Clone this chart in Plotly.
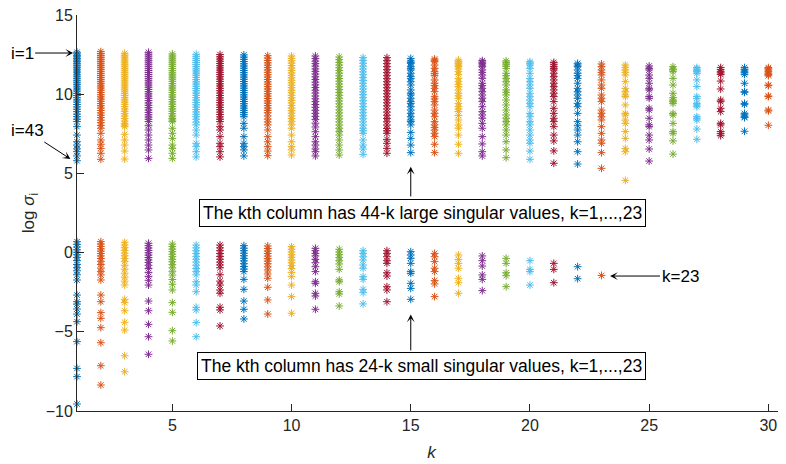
import plotly.graph_objects as go

# ---- data: log singular values per column k ----
large_01 = [12.65, 12.55, 12.45, 12.36, 12.25, 12.15, 12.05, 11.93, 11.82, 11.70, 11.58, 11.46, 11.35, 11.22, 11.10, 10.98, 10.85, 10.72, 10.60, 10.46, 10.33, 10.20, 10.05, 9.92, 9.78, 9.64, 9.50, 9.35, 9.20, 9.05, 8.90, 8.74, 8.58, 8.42, 8.27, 7.95, 7.42, 7.00, 6.79, 6.55, 6.37, 6.10, 5.80]
large_02 = [12.69, 12.57, 12.44, 12.32, 12.20, 12.07, 11.95, 11.82, 11.70, 11.57, 11.44, 11.31, 11.18, 11.05, 10.92, 10.79, 10.66, 10.52, 10.39, 10.25, 10.11, 9.97, 9.83, 9.69, 9.55, 9.41, 9.27, 9.12, 8.97, 8.82, 8.67, 8.52, 8.36, 8.20, 8.03, 7.85, 7.53, 7.11, 6.84, 6.58, 6.27, 5.89]
large_03 = [12.58, 12.46, 12.34, 12.22, 12.10, 11.98, 11.86, 11.73, 11.61, 11.48, 11.36, 11.23, 11.10, 10.97, 10.84, 10.71, 10.58, 10.45, 10.32, 10.19, 10.05, 9.92, 9.78, 9.64, 9.50, 9.36, 9.22, 9.07, 8.92, 8.77, 8.62, 8.46, 8.30, 8.14, 8.05, 7.95, 7.47, 7.11, 6.79, 6.41, 5.91]
large_04 = [12.64, 12.52, 12.40, 12.27, 12.14, 12.02, 11.89, 11.76, 11.63, 11.50, 11.37, 11.24, 11.11, 10.98, 10.85, 10.71, 10.58, 10.44, 10.30, 10.16, 10.02, 9.88, 9.74, 9.60, 9.45, 9.30, 9.15, 9.00, 8.85, 8.70, 8.56, 8.42, 8.27, 8.01, 7.74, 7.42, 7.11, 6.79, 6.48, 5.95]
large_05 = [12.54, 12.41, 12.28, 12.15, 12.02, 11.89, 11.76, 11.62, 11.49, 11.35, 11.22, 11.08, 10.95, 10.81, 10.67, 10.53, 10.39, 10.25, 10.11, 9.96, 9.82, 9.67, 9.52, 9.37, 9.22, 9.07, 8.92, 8.77, 8.62, 8.47, 8.37, 8.27, 7.85, 7.53, 7.21, 6.79, 6.58, 6.27, 5.95]
large_06 = [12.52, 12.39, 12.26, 12.13, 12.00, 11.87, 11.74, 11.60, 11.47, 11.33, 11.20, 11.06, 10.92, 10.78, 10.64, 10.50, 10.36, 10.22, 10.07, 9.93, 9.78, 9.63, 9.48, 9.33, 9.18, 9.03, 8.88, 8.73, 8.58, 8.42, 8.24, 8.06, 7.74, 7.42, 6.90, 6.69, 6.37, 6.04]
large_07 = [12.50, 12.36, 12.22, 12.08, 11.94, 11.80, 11.66, 11.52, 11.38, 11.24, 11.10, 10.95, 10.81, 10.66, 10.52, 10.37, 10.22, 10.07, 9.92, 9.77, 9.62, 9.47, 9.32, 9.17, 9.02, 8.87, 8.72, 8.57, 8.42, 8.27, 7.95, 7.74, 7.32, 6.90, 6.69, 6.37, 6.04]
large_08 = [12.48, 12.34, 12.20, 12.06, 11.92, 11.78, 11.64, 11.50, 11.36, 11.22, 11.08, 10.94, 10.80, 10.66, 10.52, 10.38, 10.24, 10.10, 9.96, 9.82, 9.68, 9.54, 9.40, 9.26, 9.12, 8.98, 8.84, 8.71, 8.58, 8.16, 7.85, 7.32, 6.90, 6.69, 6.48, 6.10]
large_09 = [12.43, 12.28, 12.13, 11.98, 11.83, 11.68, 11.53, 11.38, 11.23, 11.08, 10.93, 10.78, 10.63, 10.48, 10.33, 10.18, 10.03, 9.88, 9.73, 9.58, 9.43, 9.28, 9.13, 8.98, 8.83, 8.63, 8.43, 8.25, 8.06, 7.74, 7.32, 7.00, 6.69, 6.41, 6.12]
large_10 = [12.41, 12.26, 12.11, 11.96, 11.81, 11.65, 11.50, 11.34, 11.19, 11.03, 10.88, 10.72, 10.57, 10.41, 10.25, 10.09, 9.93, 9.77, 9.61, 9.45, 9.29, 9.13, 8.96, 8.80, 8.63, 8.46, 8.29, 8.07, 7.85, 7.42, 7.00, 6.69, 6.48, 6.16]
large_11 = [12.41, 12.25, 12.09, 11.93, 11.77, 11.60, 11.44, 11.27, 11.10, 10.93, 10.76, 10.59, 10.42, 10.25, 10.07, 9.89, 9.71, 9.53, 9.35, 9.17, 8.98, 8.79, 8.60, 8.41, 8.17, 7.93, 7.63, 7.32, 7.00, 6.79, 6.54, 6.37, 6.10]
large_12 = [12.35, 12.18, 12.01, 11.84, 11.67, 11.50, 11.33, 11.16, 10.99, 10.82, 10.64, 10.47, 10.29, 10.11, 9.93, 9.75, 9.57, 9.39, 9.20, 9.01, 8.82, 8.63, 8.44, 8.25, 8.05, 7.85, 7.64, 7.42, 7.11, 6.79, 6.48, 6.16]
large_13 = [12.31, 12.13, 11.95, 11.77, 11.59, 11.41, 11.23, 11.05, 10.87, 10.69, 10.51, 10.33, 10.15, 9.97, 9.78, 9.59, 9.40, 9.21, 9.02, 8.83, 8.64, 8.45, 8.25, 8.05, 7.85, 7.69, 7.53, 7.11, 6.79, 6.54, 6.20]
large_14 = [12.31, 12.12, 11.93, 11.74, 11.55, 11.36, 11.17, 10.98, 10.79, 10.60, 10.41, 10.22, 10.03, 9.84, 9.65, 9.46, 9.27, 9.07, 8.87, 8.67, 8.47, 8.26, 8.05, 7.84, 7.69, 7.53, 7.15, 6.90, 6.58, 6.27]
large_15 = [12.26, 12.10, 12.01, 11.95, 11.74, 11.63, 11.53, 11.32, 11.11, 11.00, 10.79, 10.58, 10.27, 10.06, 9.95, 9.74, 9.53, 9.42, 9.21, 9.00, 8.79, 8.58, 8.37, 8.27, 8.06, 7.59, 7.21, 6.79, 6.31]
large_16 = [12.22, 12.14, 12.05, 11.84, 11.63, 11.42, 11.30, 11.17, 10.90, 10.69, 10.54, 10.37, 10.16, 9.84, 9.70, 9.53, 9.32, 9.00, 8.79, 8.58, 8.27, 8.06, 7.89, 7.74, 7.53, 7.32, 6.84, 6.31]
large_17 = [12.16, 12.05, 11.95, 11.84, 11.74, 11.59, 11.42, 11.25, 11.00, 10.79, 10.62, 10.48, 10.27, 10.06, 9.89, 9.74, 9.42, 9.21, 9.07, 8.90, 8.65, 8.37, 8.06, 7.85, 7.42, 6.84, 6.27]
large_18 = [12.12, 12.03, 11.95, 11.84, 11.74, 11.53, 11.38, 11.21, 11.00, 10.69, 10.54, 10.37, 10.16, 9.95, 9.74, 9.53, 9.21, 8.90, 8.69, 8.48, 8.16, 7.85, 7.32, 6.86, 6.37, 6.10]
large_19 = [12.10, 11.99, 11.89, 11.76, 11.63, 11.32, 11.17, 11.00, 10.79, 10.58, 10.27, 10.12, 9.95, 9.63, 9.32, 9.00, 8.69, 8.48, 8.27, 8.06, 7.74, 7.42, 7.00, 6.48, 5.99]
large_20 = [12.05, 11.95, 11.84, 11.63, 11.32, 11.00, 10.79, 10.58, 10.37, 10.06, 9.84, 9.63, 9.42, 9.21, 8.79, 8.58, 8.27, 8.06, 7.74, 7.42, 7.11, 6.90, 6.41, 5.89]
large_21 = [12.01, 11.89, 11.74, 11.63, 11.53, 11.32, 11.11, 10.90, 10.69, 10.48, 10.27, 10.06, 9.85, 9.53, 9.11, 8.79, 8.48, 8.27, 7.95, 7.42, 7.05, 6.42, 5.64]
large_22 = [11.95, 11.84, 11.74, 11.53, 11.32, 11.17, 11.00, 10.69, 10.37, 10.16, 9.95, 9.74, 9.42, 9.21, 8.79, 8.27, 8.01, 7.74, 7.42, 7.00, 6.37, 5.59]
large_23 = [11.91, 11.74, 11.53, 11.38, 11.21, 10.90, 10.58, 10.37, 9.95, 9.74, 9.53, 9.00, 8.79, 8.58, 8.37, 7.95, 7.53, 7.11, 6.90, 6.31, 5.32]
large_24 = [11.84, 11.70, 11.53, 11.38, 11.21, 10.79, 10.37, 10.16, 9.95, 9.85, 9.32, 8.79, 8.69, 8.37, 8.16, 7.64, 7.21, 6.58, 6.37, 4.56]
large_25 = [11.78, 11.63, 11.53, 11.21, 11.00, 10.69, 10.37, 10.27, 9.85, 9.74, 9.11, 9.00, 8.48, 8.06, 7.95, 7.42, 7.11, 6.54, 5.78]
large_26 = [11.74, 11.59, 11.53, 11.42, 11.00, 10.58, 10.06, 9.78, 9.63, 9.53, 9.42, 8.79, 8.69, 8.16, 7.64, 7.53, 7.05, 6.22]
large_27 = [11.68, 11.59, 11.51, 11.42, 11.32, 10.90, 10.48, 9.85, 9.74, 9.42, 9.32, 9.21, 8.58, 8.48, 8.37, 7.80, 7.15]
large_28 = [11.68, 11.55, 11.42, 11.34, 11.25, 10.83, 10.33, 9.63, 9.53, 9.11, 8.90, 8.16, 8.06, 7.64, 7.51, 7.38]
large_29 = [11.68, 11.57, 11.46, 11.36, 11.25, 10.69, 10.16, 10.12, 9.42, 9.36, 8.79, 8.69, 8.58, 8.52, 7.66]
large_30 = [11.68, 11.61, 11.53, 11.42, 11.32, 11.25, 11.17, 10.58, 10.54, 9.89, 9.85, 9.00, 8.94, 8.04]

small_01 = [0.69, 0.52, 0.35, 0.18, 0.02, -0.14, -0.30, -0.50, -0.75, -0.95, -1.15, -1.40, -1.73, -2.68, -3.10, -3.25, -3.56, -3.88, -4.36, -5.62, -7.31, -7.83, -9.56]
small_02 = [0.69, 0.54, 0.39, 0.24, 0.09, -0.06, -0.21, -0.37, -0.55, -0.75, -0.98, -1.20, -1.41, -1.73, -2.68, -3.10, -3.79, -4.15, -4.74, -5.69, -7.14, -8.36]
small_03 = [0.65, 0.48, 0.31, 0.14, -0.03, -0.20, -0.37, -0.55, -0.80, -1.05, -1.30, -1.55, -1.80, -2.05, -2.95, -3.16, -3.67, -4.40, -4.89, -6.51, -7.52]
small_04 = [0.59, 0.44, 0.29, 0.14, -0.01, -0.16, -0.31, -0.46, -0.62, -0.80, -1.00, -1.25, -1.50, -1.75, -2.05, -3.06, -3.67, -4.53, -5.31, -6.42]
small_05 = [0.54, 0.38, 0.22, 0.06, -0.10, -0.26, -0.42, -0.58, -0.76, -0.96, -1.18, -1.42, -1.70, -2.00, -2.36, -3.16, -3.77, -4.93, -5.58]
small_06 = [0.48, 0.30, 0.12, -0.06, -0.24, -0.42, -0.60, -0.80, -1.00, -1.20, -1.41, -1.84, -2.05, -2.47, -3.45, -3.62, -4.42, -5.31]
small_07 = [0.48, 0.30, 0.12, -0.06, -0.24, -0.42, -0.60, -0.78, -0.96, -1.40, -1.80, -2.05, -2.36, -2.57, -3.45, -3.62, -4.63]
small_08 = [0.44, 0.28, 0.12, -0.04, -0.20, -0.36, -0.52, -0.70, -0.88, -1.04, -1.20, -1.69, -2.32, -3.06, -3.58, -4.19]
small_09 = [0.42, 0.26, 0.10, -0.06, -0.22, -0.38, -0.54, -0.70, -0.90, -1.10, -1.35, -1.62, -2.19, -2.99, -3.88]
small_10 = [0.38, 0.21, 0.04, -0.13, -0.30, -0.47, -0.64, -0.82, -1.00, -1.25, -1.52, -2.05, -2.78, -3.83]
small_11 = [0.27, 0.12, -0.05, -0.21, -0.43, -0.64, -0.89, -1.20, -1.84, -1.94, -2.57, -2.74, -3.58]
small_12 = [0.21, 0.04, -0.13, -0.30, -0.51, -0.72, -1.06, -1.73, -1.84, -2.47, -2.61, -3.37]
small_13 = [0.12, -0.05, -0.26, -0.47, -0.78, -0.99, -1.52, -1.69, -2.32, -2.53, -3.24]
small_14 = [0.12, -0.05, -0.26, -0.51, -0.68, -1.27, -1.48, -2.15, -2.36, -3.10]
small_15 = [0.06, -0.15, -0.36, -0.68, -1.20, -1.31, -1.94, -2.26, -2.95]
small_16 = [-0.05, -0.26, -0.57, -0.99, -1.20, -1.77, -1.98, -2.78]
small_17 = [-0.15, -0.43, -0.68, -0.99, -1.62, -1.90, -2.57]
small_18 = [-0.21, -0.51, -0.85, -1.41, -1.69, -2.40]
small_19 = [-0.36, -0.68, -1.27, -1.46, -2.15]
small_20 = [-0.51, -1.06, -1.20, -2.05]
small_21 = [-0.68, -1.06, -1.90]
small_22 = [-0.89, -1.65]
small_23 = [-1.44]

x_ticks = [5, 10, 15, 20, 25, 30]
y_ticks = [-10, -5, 0, 5, 10, 15]

large_cols = [large_01, large_02, large_03, large_04, large_05, large_06, large_07, large_08, large_09, large_10,
              large_11, large_12, large_13, large_14, large_15, large_16, large_17, large_18, large_19, large_20,
              large_21, large_22, large_23, large_24, large_25, large_26, large_27, large_28, large_29, large_30]
small_cols = [small_01, small_02, small_03, small_04, small_05, small_06, small_07, small_08, small_09, small_10,
              small_11, small_12, small_13, small_14, small_15, small_16, small_17, small_18, small_19, small_20,
              small_21, small_22, small_23]

palette = ["#0072BD", "#D95319", "#EDB120", "#7E2F8E", "#77AC30", "#4DBEEE", "#A2142F"]

fig = go.Figure()
for k in range(1, 31):
    vals = list(large_cols[k - 1])
    if k <= len(small_cols):
        vals += small_cols[k - 1]
    c = palette[(k - 1) % 7]
    fig.add_trace(go.Scatter(
        x=[k] * len(vals), y=vals, mode="markers", cliponaxis=False,
        marker=dict(symbol="asterisk-open", size=6.5, color=c, line=dict(color=c, width=1)),
        showlegend=False, hoverinfo="skip"))

axis_col = "#262626"
font_fam = "Liberation Sans, Arial, sans-serif"

# page body has an 8px default margin, so the figure is sized/offset to compensate
fig.update_layout(
    width=778, height=456,
    margin=dict(l=69, r=0, t=7, b=53),
    plot_bgcolor="white", paper_bgcolor="white",
    font=dict(family=font_fam, size=16, color=axis_col),
)
fig.update_xaxes(range=[1, 30.74], tickvals=x_ticks, ticks="inside", ticklen=7, tickcolor=axis_col,
                 showline=True, linecolor=axis_col, linewidth=1, showgrid=False, zeroline=False,
                 automargin=False, ticklabeloverflow="allow", tickfont=dict(size=16, color=axis_col),
                 title=dict(text="<i>k</i>", font=dict(size=17, color=axis_col), standoff=12))
fig.update_yaxes(range=[-10, 15], tickvals=y_ticks, ticks="inside", ticklen=7, tickcolor=axis_col,
                 showline=True, linecolor=axis_col, linewidth=1, showgrid=False, zeroline=False,
                 automargin=False, ticklabeloverflow="allow", tickfont=dict(size=16, color=axis_col),
                 title=dict(text="log <i>σ</i><sub>i</sub>", font=dict(size=17, color=axis_col), standoff=6))

box_font = dict(family=font_fam, size=17.5, color="black")
ann_font = dict(family=font_fam, size=17, color="black")
# boxed notes
fig.add_annotation(x=15.48, y=2.5, xref="x", yref="y", showarrow=False,
                   text="The kth column has 44-k large singular values, k=1,...,23",
                   font=box_font, bordercolor="black", borderwidth=1, borderpad=3, bgcolor="white")
fig.add_annotation(x=15.44, y=-7.16, xref="x", yref="y", showarrow=False,
                   text="The kth column has 24-k small singular values, k=1,...,23",
                   font=box_font, bordercolor="black", borderwidth=1, borderpad=3, bgcolor="white")
# arrows from boxes
fig.add_annotation(x=15, y=5.42, ax=15, ay=3.45, xref="x", yref="y", axref="x", ayref="y",
                   text="", showarrow=True, arrowhead=3, arrowsize=1.3, arrowwidth=1, arrowcolor="black", standoff=0)
fig.add_annotation(x=15, y=-3.9, ax=15, ay=-6.27, xref="x", yref="y", axref="x", ayref="y",
                   text="", showarrow=True, arrowhead=3, arrowsize=1.3, arrowwidth=1, arrowcolor="black", standoff=0)
# k=23 pointer
fig.add_annotation(x=23.36, y=-1.48, xref="x", yref="y", text="k=23", ax=70, ay=0,
                   font=ann_font, showarrow=True, arrowhead=3, arrowsize=1.3, arrowwidth=1,
                   arrowcolor="black", standoff=0)
# i=1 and i=43 pointers (left of the axis)
fig.add_annotation(x=-0.0055, y=12.6, xref="paper", yref="y", text="i=1", ax=-51, ay=0,
                   font=ann_font, showarrow=True, arrowhead=3, arrowsize=1.3, arrowwidth=1,
                   arrowcolor="black", standoff=0)
fig.add_annotation(x=-0.0093, y=5.91, xref="paper", yref="y", text="i=43", ax=-43, ay=-28,
                   font=ann_font, showarrow=True, arrowhead=3, arrowsize=1.3, arrowwidth=1,
                   arrowcolor="black", standoff=0)

fig.write_html("out.html")
